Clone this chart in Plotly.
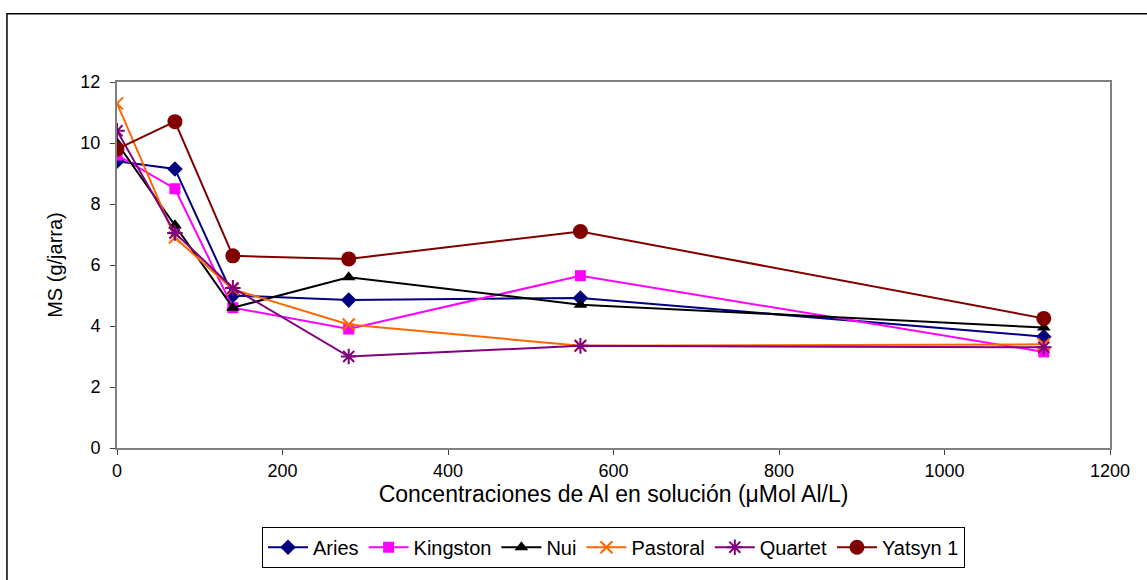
import plotly.graph_objects as go

x_vals = [0, 70, 140, 280, 560, 1120]
aries = [9.4, 9.15, 5.0, 4.85, 4.92, 3.65]
kingston = [9.6, 8.5, 4.6, 3.9, 5.65, 3.15]
nui = [10.0, 7.3, 4.6, 5.6, 4.7, 3.95]
pastoral = [11.3, 6.9, 5.2, 4.05, 3.35, 3.4]
quartet = [10.4, 7.05, 5.25, 3.0, 3.35, 3.3]
yatsyn = [9.8, 10.7, 6.3, 6.2, 7.1, 4.25]

series = [
    ("Aries", aries, "#000080", "diamond", 12, None),
    ("Kingston", kingston, "#FF00FF", "square", 11, None),
    ("Nui", nui, "#000000", "triangle-up", 12, None),
    ("Pastoral", pastoral, "#FF6600", "x-thin-open", 12, 2),
    ("Quartet", quartet, "#800080", "asterisk-open", 13, 2),
    ("Yatsyn 1", yatsyn, "#800000", "circle", 15, None),
]

fig = go.Figure()
for name, ys, col, sym, sz, lw in series:
    marker = dict(symbol=sym, size=sz, color=col)
    if lw:
        marker["line"] = dict(color=col, width=lw)
    fig.add_trace(go.Scatter(x=x_vals, y=ys, name=name, mode="lines+markers",
                             line=dict(color=col, width=2), marker=marker))

fig.update_layout(
    width=1147, height=580,
    margin=dict(l=117, r=37, t=82, b=128),
    plot_bgcolor="white", paper_bgcolor="white",
    font=dict(family="Liberation Sans, Arial", size=18, color="black"),
    xaxis=dict(range=[0, 1200], tickvals=[0, 200, 400, 600, 800, 1000, 1200],
               showgrid=False, zeroline=False, ticks="outside", ticklen=5,
               tickcolor="#404040", showline=True, linecolor="#808080", linewidth=2,
               mirror=True, tickfont=dict(size=18),
               title=dict(text="Concentraciones de Al en solución (μMol Al/L)",
                          font=dict(size=23), standoff=1)),
    yaxis=dict(range=[0, 12], tickvals=[0, 2, 4, 6, 8, 10, 12],
               showgrid=False, zeroline=False, ticks="outside", ticklen=5,
               tickcolor="#404040", showline=True, linecolor="#808080", linewidth=2,
               mirror=True, tickfont=dict(size=18), ticklabelstandoff=6,
               title=dict(text="MS (g/jarra)", font=dict(size=20), standoff=12)),
    legend=dict(orientation="h", x=0.5, xanchor="center", y=-0.215, yanchor="top",
                bordercolor="black", borderwidth=1, font=dict(size=20),
                itemwidth=40),
    shapes=[dict(type="rect", xref="paper", yref="paper",
                 x0=-0.1108, x1=1.1, y0=-0.5, y1=1.1865,
                 line=dict(color="black", width=1.5))],
)

fig.write_html("out.html")
